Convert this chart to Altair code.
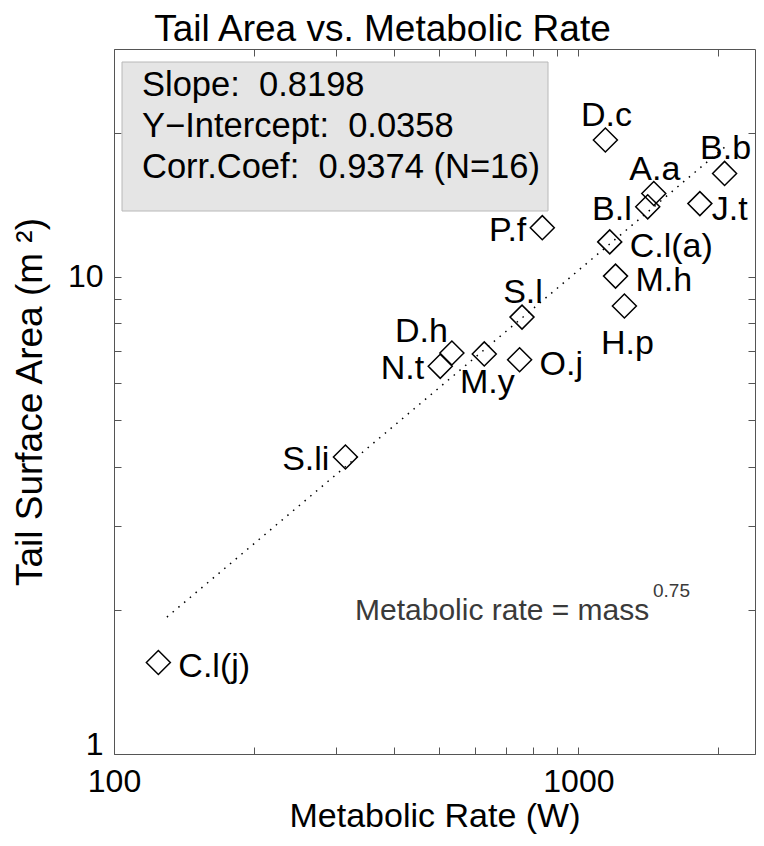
import altair as alt
import pandas as pd

# ---------------- data ----------------
names = ["C.l(j)", "S.li", "N.t", "D.h", "M.y", "O.j", "S.l", "P.f",
         "D.c", "C.l(a)", "M.h", "H.p", "B.l", "A.a", "J.t", "B.b"]
metabolic_rate = [124.6, 315, 504, 534, 627, 747, 756, 836,
                  1143, 1168, 1202, 1256, 1410, 1453, 1826, 2064]
tail_area = [1.555, 4.19, 6.49, 6.92, 6.89, 6.70, 8.23, 12.67,
             19.34, 11.83, 10.03, 8.68, 14.01, 14.94, 14.23, 16.46]
label_side = ["right", "left", "left", "above_left", "below", "right", "above", "left",
              "above", "right", "right", "below_far", "left", "above", "right_near", "above"]

fit_slope = 0.8198
fit_intercept = 0.0358
fit_corr = 0.9374
fit_n = 16
fit_x_range = [130, 2064]

x_ticks = [100, 200, 300, 400, 500, 600, 700, 800, 900, 1000, 2000]
x_labeled = [100, 1000]
y_ticks = [1, 2, 3, 4, 5, 6, 7, 8, 9, 10, 20]
y_labeled = [1, 10]
x_domain = [100, 2400]
y_domain = [1, 30]

# ---------------- style ----------------
FONT = "Liberation Sans"
AX = "#555555"

PLACE = {
    "right": dict(align="left", baseline="middle", dx=20, dy=5),
    "right_near": dict(align="left", baseline="middle", dx=12, dy=6),
    "left": dict(align="right", baseline="middle", dx=-16, dy=3),
    "above": dict(align="center", baseline="alphabetic", dx=1, dy=-14),
    "above_left": dict(align="right", baseline="alphabetic", dx=-4, dy=-11),
    "below": dict(align="center", baseline="top", dx=3, dy=12),
    "below_far": dict(align="center", baseline="top", dx=3, dy=21),
}

df = pd.DataFrame(dict(name=names, rate=metabolic_rate, area=tail_area, side=label_side))
fit_df = pd.DataFrame({"rate": fit_x_range,
                       "area": [fit_intercept * v ** fit_slope for v in fit_x_range]})
stats_text = (f"Slope:\u00a0 {fit_slope:.4f}\n"
              f"Y\u2212Intercept:\u00a0 {fit_intercept:.4f}\n"
              f"Corr.Coef:\u00a0 {fit_corr:.4f} (N={fit_n})")
stats_df = pd.DataFrame({"t": [stats_text]})
one = pd.DataFrame({"k": [0]})

xscale = alt.Scale(type="log", domain=x_domain, nice=False)
yscale = alt.Scale(type="log", domain=y_domain, nice=False)


def label_expr(vals):
    arr = ",".join(str(v) for v in vals)
    return f"indexof([{arr}], datum.value) >= 0 ? format(datum.value, 'd') : ''"


common = dict(tickSize=7, offset=-7, domain=False, grid=False, tickColor=AX, tickWidth=1,
              labelFont=FONT, labelColor="black", labelOverlap=False, labelFlush=False,
              titleFont=FONT, titleFontWeight="normal", titleColor="black")

x_axis = alt.Axis(orient="bottom", values=x_ticks, labelExpr=label_expr(x_labeled),
                  labelFontSize=32, labelPadding=12, title="Metabolic Rate (W)",
                  titleFontSize=34, titlePadding=2, **common)
y_axis = alt.Axis(orient="left", values=y_ticks, labelExpr=label_expr(y_labeled),
                  labelFontSize=32, labelPadding=11,
                  labelBaseline={"condition": {"test": f"datum.value <= {y_labeled[0]}",
                                               "value": "alphabetic"},
                                 "value": "middle"},
                  title="Tail Surface Area (m \u00b2)", titleFontSize=37, titlePadding=18,
                  **common)
x_axis_top = alt.Axis(orient="top", values=x_ticks, labels=False, title=None, **common)
y_axis_right = alt.Axis(orient="right", values=y_ticks, labels=False, title=None, **common)

base = alt.Chart(df)

box = alt.Chart(one).mark_rect(fill="#e5e5e5", stroke="#b8b8b8", strokeWidth=1).encode(
    x=alt.value(8), x2=alt.value(434), y=alt.value(13), y2=alt.value(162))

box_text = alt.Chart(stats_df).mark_text(
    font=FONT, fontSize=34.5, color="black", align="left", baseline="alphabetic",
    lineBreak="\n", lineHeight=41).encode(
    x=alt.value(28), y=alt.value(47), text="t:N")

fit_line = alt.Chart(fit_df).mark_line(
    color="black", strokeWidth=1.5, strokeDash=[1.5, 6]).encode(
    x=alt.X("rate:Q", scale=xscale, axis=None),
    y=alt.Y("area:Q", scale=yscale, axis=None))

points = base.mark_point(shape="diamond", size=576, filled=False, color="black",
                         strokeWidth=1.5, opacity=1).encode(
    x=alt.X("rate:Q", scale=xscale, axis=x_axis),
    y=alt.Y("area:Q", scale=yscale, axis=y_axis))

mirror = base.mark_point(opacity=0).encode(
    x=alt.X("rate:Q", scale=xscale, axis=x_axis_top),
    y=alt.Y("area:Q", scale=yscale, axis=y_axis_right))

label_layers = []
for side, p in PLACE.items():
    label_layers.append(
        base.transform_filter(alt.datum.side == side).mark_text(
            font=FONT, fontSize=34, color="black", **p).encode(
            x=alt.X("rate:Q", scale=xscale, axis=None),
            y=alt.Y("area:Q", scale=yscale, axis=None),
            text="name:N"))

note = alt.Chart(one).mark_text(
    font=FONT, fontSize=30, color="#3a3a3a", align="left", baseline="alphabetic").encode(
    x=alt.value(241), y=alt.value(571), text=alt.value("Metabolic rate = mass"))
note_sup = alt.Chart(one).mark_text(
    font=FONT, fontSize=19, color="#3a3a3a", align="left", baseline="alphabetic").encode(
    x=alt.value(539), y=alt.value(548), text=alt.value("0.75"))

chart = alt.layer(box, box_text, fit_line, points, mirror, *label_layers, note, note_sup).resolve_axis(
    x="independent", y="independent"
).properties(
    width=641, height=705,
    title=alt.TitleParams("Tail Area vs. Metabolic Rate", font=FONT, fontSize=37,
                          fontWeight="normal", color="black", anchor="middle",
                          dx=-52, offset=0),
    autosize=alt.AutoSizeParams(type="none"),
    padding={"left": 106, "top": 41, "right": 1, "bottom": 84},
).configure_view(stroke=AX, strokeWidth=1)

chart.save("out.html", embed_options={"renderer": "svg", "actions": False})
